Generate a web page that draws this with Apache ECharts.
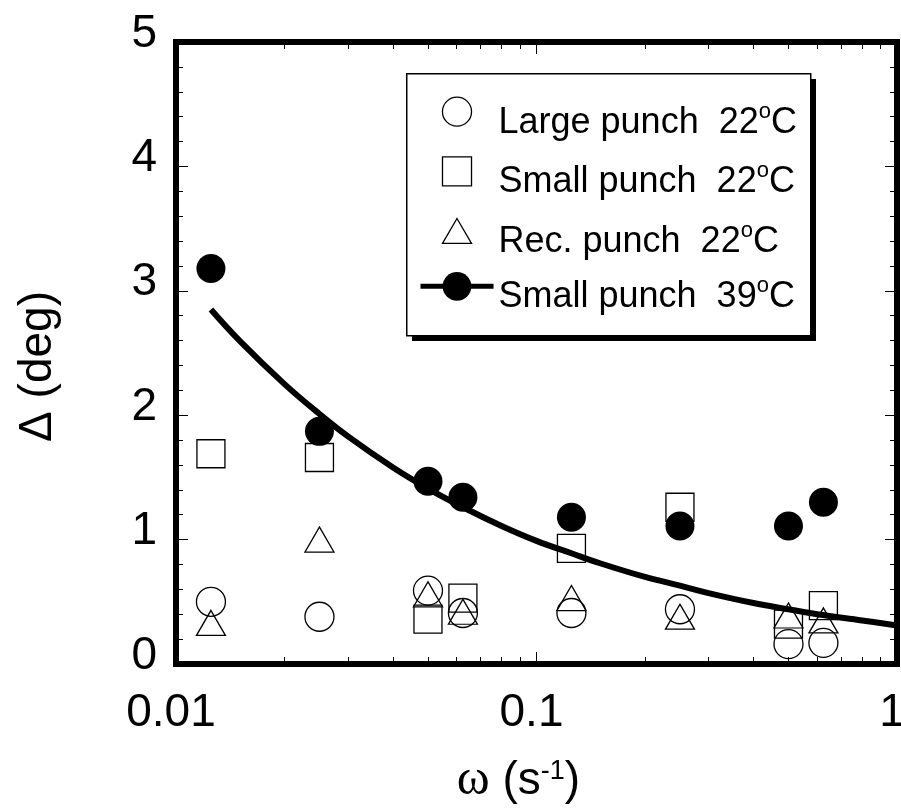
<!DOCTYPE html>
<html lang="en">
<head>
<meta charset="UTF-8">
<title>Delta vs omega</title>
<script src="https://cdn.jsdelivr.net/npm/echarts@6/dist/echarts.min.js"></script>
<style>
    html, body { margin: 0; padding: 0; background: #fff; }
    #chart { width: 901px; height: 808px; }
</style>
</head>
<body>
<div id="chart"></div>
<script>
// measured frequencies (s^-1)
const omega = [0.0125, 0.025, 0.05, 0.0625, 0.125, 0.25, 0.5, 0.625];

// phase angle Delta (deg) for each punch / temperature
const largePunch22 = [0.50, 0.38, 0.59, 0.41, 0.41, 0.44, 0.16, 0.17];
const smallPunch22 = [1.69, 1.66, 0.36, 0.53, 0.93, 1.26, 0.32, 0.47];
const recPunch22   = [0.33, 1.00, 0.56, 0.42, 0.53, 0.38, 0.39, 0.35];
const smallPunch39 = [3.18, 1.87, 1.47, 1.34, 1.18, 1.11, 1.11, 1.30];

// fitted curve through the 39 C data
const fitOmega = [0.0125, 0.015, 0.02, 0.025, 0.03, 0.04, 0.05, 0.0625, 0.08, 0.1,
                  0.125, 0.15, 0.2, 0.25, 0.3, 0.4, 0.5, 0.6, 0.8, 1.0];
const fitDelta = [2.85, 2.60, 2.25, 2.01, 1.83, 1.58, 1.41, 1.26, 1.11, 0.99,
                  0.89, 0.81, 0.70, 0.63, 0.57, 0.49, 0.44, 0.40, 0.35, 0.31];

// minor ticks of the log axis
const xMinorTicks = [0.02, 0.03, 0.04, 0.05, 0.06, 0.07, 0.08, 0.09,
                     0.2, 0.3, 0.4, 0.5, 0.6, 0.7, 0.8, 0.9];

const names = ['Large punch  22°C', 'Small punch  22°C', 'Rec. punch  22°C', 'Small punch  39°C'];

const FONT = "'Liberation Sans', Arial, sans-serif";

// legend icons: shapes inside a padded box so they come out ~29px
const iconCircle = 'path://M0,0M124,124M62,12A50,50,0,1,1,62,112A50,50,0,1,1,62,12Z';
const iconSquare = 'path://M0,0M124,124M12,12L112,12L112,112L12,112Z';
const iconTriangle = 'path://M0,0M124,124M62,19L112,105L12,105Z';

function pairs(xs, ys) {
    return xs.map((x, i) => [x, ys[i]]);
}

const openStyle = { color: 'transparent', borderColor: '#000', borderWidth: 1.3, opacity: 1 };

const chart = echarts.init(document.getElementById('chart'));

const majorTick = { show: true, inside: true, length: 12, lineStyle: { color: '#000', width: 1 } };
const minorTick = { show: true, inside: true, length: 7, lineStyle: { color: '#000', width: 1 } };
const yMinor = { show: true, splitNumber: 5, length: 7, lineStyle: { color: '#000', width: 1 } };

chart.setOption({
    animation: false,
    grid: {
        left: 176, right: 4, top: 42, bottom: 144,
        containLabel: false, outerBoundsMode: 'none',
        show: true, borderColor: '#000', borderWidth: 6, backgroundColor: 'transparent'
    },
    // legend frame with its solid drop shadow
    graphic: [
        { type: 'rect', left: 412, top: 79, z: 3, silent: true,
          shape: { width: 404, height: 262 }, style: { fill: '#000' } },
        { type: 'rect', left: 406, top: 73, z: 3, silent: true,
          shape: { width: 404, height: 262 }, style: { fill: '#fff', stroke: '#000', lineWidth: 1.5 } }
    ],
    legend: {
        orient: 'vertical',
        left: 406, top: 73, z: 5,
        padding: [20, 13, 20, 12],
        itemWidth: 73, itemHeight: 36, itemGap: 12,
        align: 'left',
        selectedMode: false,
        itemStyle: { borderWidth: 1.3 },
        lineStyle: { width: 5 },
        data: [
            { name: names[0], icon: iconCircle },
            { name: names[1], icon: iconSquare },
            { name: names[2], icon: iconTriangle },
            { name: names[3] }
        ],
        formatter: function (name) {
            const base = name.replace('°C', '');
            return '{t|' + base + '}{s|o}{t|C}';
        },
        textStyle: {
            color: '#000',
            fontFamily: FONT,
            rich: {
                t: { fontSize: 36, fontFamily: FONT, color: '#000', lineHeight: 36, verticalAlign: 'bottom' },
                s: { fontSize: 22, fontFamily: FONT, color: '#000', lineHeight: 58 }
            }
        }
    },
    xAxis: [
        {
            type: 'log', logBase: 10, min: 0.01, max: 1, position: 'bottom',
            axisLine: { show: false },
            splitLine: { show: false },
            axisTick: majorTick,
            axisLabel: {
                fontSize: 46, fontFamily: FONT, color: '#000', margin: 26,
                padding: [0, 10, 0, 0],
                formatter: v => String(v)
            },
            name: '{w|ω}{n| (s}{s|-1}{n|)}',
            nameLocation: 'middle',
            nameGap: 94,
            nameTextStyle: {
                padding: [0, 36, 0, 0],
                rich: {
                    w: { fontSize: 50, fontFamily: "'Liberation Serif', serif", color: '#000', lineHeight: 46 },
                    n: { fontSize: 46, fontFamily: FONT, color: '#000', lineHeight: 46 },
                    s: { fontSize: 27, fontFamily: FONT, color: '#000', lineHeight: 15, verticalAlign: 'top' }
                }
            }
        },
        {
            type: 'log', logBase: 10, min: 0.01, max: 1, position: 'bottom',
            axisLine: { show: false }, splitLine: { show: false },
            axisLabel: { show: false },
            axisTick: Object.assign({ customValues: xMinorTicks }, minorTick)
        },
        {
            type: 'log', logBase: 10, min: 0.01, max: 1, position: 'top',
            axisLine: { show: false }, splitLine: { show: false },
            axisLabel: { show: false },
            axisTick: majorTick
        },
        {
            type: 'log', logBase: 10, min: 0.01, max: 1, position: 'top',
            axisLine: { show: false }, splitLine: { show: false },
            axisLabel: { show: false },
            axisTick: Object.assign({ customValues: xMinorTicks }, minorTick)
        }
    ],
    yAxis: [
        {
            type: 'value', min: 0, max: 5, interval: 1, position: 'left',
            axisLine: { show: false },
            splitLine: { show: false },
            axisTick: majorTick,
            minorTick: yMinor,
            axisLabel: {
                fontSize: 46, fontFamily: FONT, color: '#000', margin: 19,
                verticalAlign: 'bottom', lineHeight: 16
            },
            name: 'Δ (deg)',
            nameLocation: 'middle',
            nameGap: 115,
            nameTextStyle: {
                fontSize: 46, fontFamily: FONT, color: '#000',
                padding: [0, 27, 0, 0]
            }
        },
        {
            type: 'value', min: 0, max: 5, interval: 1, position: 'right',
            axisLine: { show: false },
            splitLine: { show: false },
            axisTick: majorTick,
            minorTick: yMinor,
            axisLabel: { show: false }
        }
    ],
    series: [
        {
            name: names[0], type: 'scatter',
            symbol: 'circle', symbolSize: 29,
            itemStyle: openStyle,
            data: pairs(omega, largePunch22)
        },
        {
            name: names[1], type: 'scatter',
            symbol: 'rect', symbolSize: 28,
            itemStyle: openStyle,
            data: pairs(omega, smallPunch22)
        },
        {
            name: names[2], type: 'scatter',
            symbol: 'triangle', symbolSize: [29, 25],
            itemStyle: openStyle,
            data: pairs(omega, recPunch22)
        },
        {
            name: names[3], type: 'line',
            smooth: 0.4, showSymbol: false, symbol: 'circle',
            lineStyle: { color: '#000', width: 6 },
            itemStyle: { color: '#000' },
            data: pairs(fitOmega, fitDelta)
        },
        {
            name: names[3], type: 'scatter',
            symbol: 'circle', symbolSize: 29,
            itemStyle: { color: '#000', opacity: 1 },
            data: pairs(omega, smallPunch39)
        }
    ]
});
</script>
</body>
</html>
